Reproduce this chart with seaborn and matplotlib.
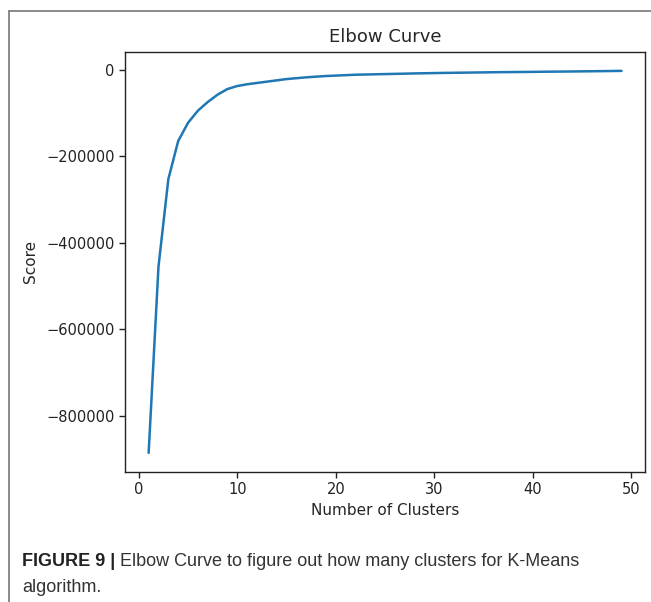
import matplotlib
matplotlib.use("Agg")
import matplotlib.pyplot as plt
import seaborn as sns
import pandas as pd
from matplotlib.lines import Line2D

# values
clusters = list(range(1, 50))
scores = [-885000, -455000, -253000, -165000, -123000, -95000, -75000, -58000,
          -45000, -38000, -34000, -31000, -28000, -25000, -22000, -20000,
          -18000, -16500, -15000, -14000, -13000, -12000, -11500, -11000,
          -10500, -10000, -9500, -9000, -8600, -8200, -7800, -7500, -7200,
          -6900, -6600, -6300, -6000, -5800, -5600, -5400, -5100, -4900,
          -4700, -4500, -4200, -4000, -3700, -3400, -3100]

df = pd.DataFrame({"Number of Clusters": clusters, "Score": scores})

sns.set_style("ticks")
plt.rcParams["font.family"] = ["DejaVu Sans"]

fig = plt.figure(figsize=(6.51, 6.02), dpi=100)
ax = fig.add_axes([0.192, 0.216, 0.799, 0.698])

sns.lineplot(data=df, x="Number of Clusters", y="Score", ax=ax,
             color="#1f77b4", linewidth=1.8)

ax.set_title("Elbow Curve", fontsize=13, pad=7)
ax.set_xlabel("Number of Clusters", fontsize=11)
ax.set_ylabel("Score", fontsize=11, labelpad=6)
ax.set_xticks([0, 10, 20, 30, 40, 50])
ax.set_yticks([0, -200000, -400000, -600000, -800000])
ax.tick_params(labelsize=10.5, length=4, width=1, colors="#222222")
for s in ax.spines.values():
    s.set_color("#222222")
    s.set_linewidth(1)

# figure frame (gray box around the panel)
fig.add_artist(Line2D([9 / 651, 1.0], [1 - 11 / 602, 1 - 11 / 602],
                      transform=fig.transFigure, color="#777777", lw=1.2))
fig.add_artist(Line2D([9 / 651, 9 / 651], [0.0, 1 - 11 / 602],
                      transform=fig.transFigure, color="#777777", lw=1.2))

# caption
cap_y1 = 1 - 562 / 602
cap_y2 = 1 - 588 / 602
t = fig.text(22 / 651, cap_y1, "FIGURE 9 | ", fontsize=13, fontweight="bold",
             family=["Liberation Sans"], color="#222222", va="center")
fig.canvas.draw()
bb = t.get_window_extent()
fig.text(bb.x1 / fig.bbox.width, cap_y1,
         "Elbow Curve to figure out how many clusters for K-Means",
         fontsize=13, family=["Liberation Sans"], color="#333333", va="center")
fig.text(22 / 651, cap_y2, "algorithm.", fontsize=13,
         family=["Liberation Sans"], color="#333333", va="center")

fig.savefig("out.png", dpi=100)
